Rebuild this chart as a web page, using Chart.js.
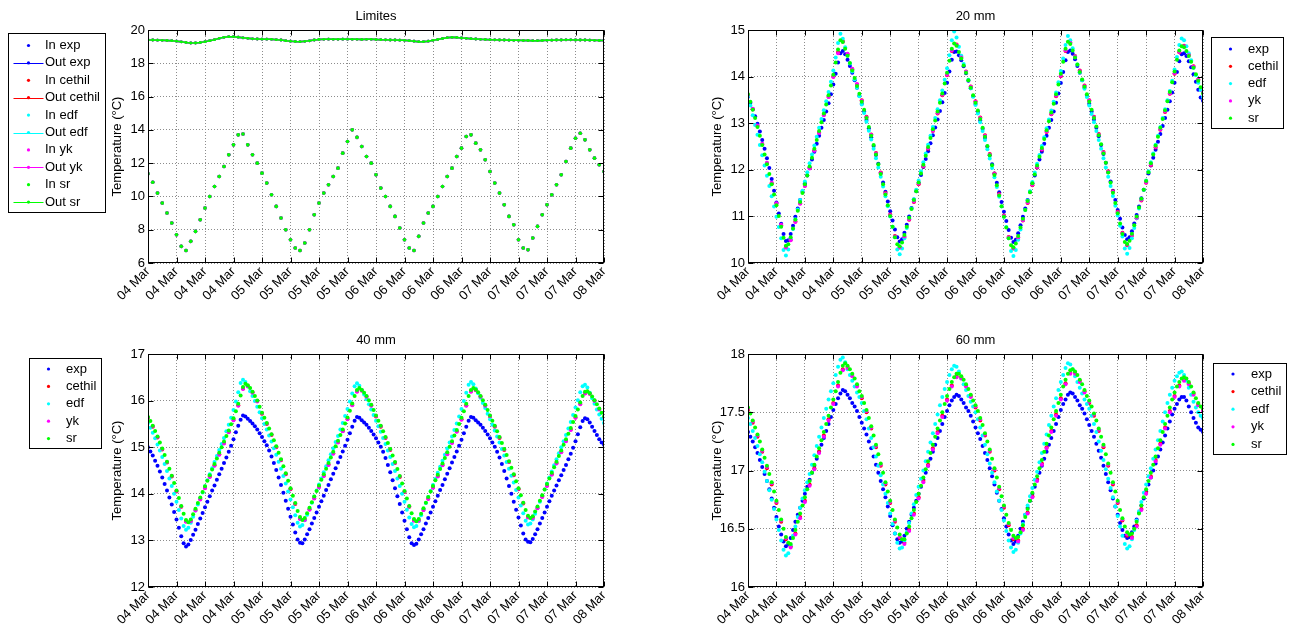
<!DOCTYPE html>
<html>
<head>
<meta charset="utf-8">
<script src="https://cdn.jsdelivr.net/npm/chart.js@4.4.1/dist/chart.umd.min.js"></script>
<style>
  html, body { margin: 0; padding: 0; background: #fff; }
  body { width: 1295px; height: 635px; position: relative; overflow: hidden; }
  .panel { position: absolute; }
</style>
</head>
<body>
<div class="panel" style="left:0;top:0;width:647px;height:317px"><canvas id="limites"></canvas></div>
<div class="panel" style="left:647px;top:0;width:648px;height:317px"><canvas id="mm20"></canvas></div>
<div class="panel" style="left:0;top:317px;width:647px;height:318px"><canvas id="mm40"></canvas></div>
<div class="panel" style="left:647px;top:317px;width:648px;height:318px"><canvas id="mm60"></canvas></div>
<script>
// x tick labels, one every 6 h from 04 Mar 00:00 to 08 Mar 00:00
const dayTicks = ['04 Mar', '04 Mar', '04 Mar', '04 Mar', '05 Mar', '05 Mar', '05 Mar', '05 Mar',
  '06 Mar', '06 Mar', '06 Mar', '06 Mar', '07 Mar', '07 Mar', '07 Mar', '07 Mar', '08 Mar'];

// sample times (hours since 04 Mar 00:00)
const hours = [0, 1, 2, 3, 4, 5, 6, 7, 8, 9, 10, 11, 12, 13, 14, 15, 16, 17, 18, 19, 20, 21, 22, 23,
  24, 25, 26, 27, 28, 29, 30, 31, 32, 33, 34, 35, 36, 37, 38, 39, 40, 41, 42, 43, 44, 45, 46, 47,
  48, 49, 50, 51, 52, 53, 54, 55, 56, 57, 58, 59, 60, 61, 62, 63, 64, 65, 66, 67, 68, 69, 70, 71,
  72, 73, 74, 75, 76, 77, 78, 79, 80, 81, 82, 83, 84, 85, 86, 87, 88, 89, 90, 91, 92, 93, 94, 95, 96];
const halfHours = [0, 0.5, 1, 1.5, 2, 2.5, 3, 3.5, 4, 4.5, 5, 5.5, 6, 6.5, 7, 7.5, 8, 8.5, 9, 9.5, 10, 10.5, 11, 11.5,
  12, 12.5, 13, 13.5, 14, 14.5, 15, 15.5, 16, 16.5, 17, 17.5, 18, 18.5, 19, 19.5, 20, 20.5, 21, 21.5, 22, 22.5, 23, 23.5,
  24, 24.5, 25, 25.5, 26, 26.5, 27, 27.5, 28, 28.5, 29, 29.5, 30, 30.5, 31, 31.5, 32, 32.5, 33, 33.5, 34, 34.5, 35, 35.5,
  36, 36.5, 37, 37.5, 38, 38.5, 39, 39.5, 40, 40.5, 41, 41.5, 42, 42.5, 43, 43.5, 44, 44.5, 45, 45.5, 46, 46.5, 47, 47.5,
  48, 48.5, 49, 49.5, 50, 50.5, 51, 51.5, 52, 52.5, 53, 53.5, 54, 54.5, 55, 55.5, 56, 56.5, 57, 57.5, 58, 58.5, 59, 59.5,
  60, 60.5, 61, 61.5, 62, 62.5, 63, 63.5, 64, 64.5, 65, 65.5, 66, 66.5, 67, 67.5, 68, 68.5, 69, 69.5, 70, 70.5, 71, 71.5,
  72, 72.5, 73, 73.5, 74, 74.5, 75, 75.5, 76, 76.5, 77, 77.5, 78, 78.5, 79, 79.5, 80, 80.5, 81, 81.5, 82, 82.5, 83, 83.5,
  84, 84.5, 85, 85.5, 86, 86.5, 87, 87.5, 88, 88.5, 89, 89.5, 90, 90.5, 91, 91.5, 92, 92.5, 93, 93.5, 94, 94.5, 95, 95.5, 96];

// Limites: boundary conditions (same for every source), hourly
const limitIn = [11.36, 10.85, 10.20, 9.60, 9.00, 8.40, 7.70, 7.00, 6.75, 7.30, 7.90, 8.60, 9.30, 10.00, 10.60, 11.20, 11.80, 12.50, 13.10, 13.70, 13.75, 13.10, 12.50, 12.00,
  11.40, 10.80, 10.10, 9.40, 8.70, 8.00, 7.40, 6.90, 6.75, 7.20, 8.00, 8.90, 9.60, 10.20, 10.70, 11.20, 11.70, 12.60, 13.30, 14.00, 13.55, 13.00, 12.40, 12.00,
  11.30, 10.50, 10.00, 9.40, 8.80, 8.10, 7.40, 6.90, 6.75, 7.60, 8.40, 9.00, 9.40, 10.00, 10.60, 11.20, 11.70, 12.40, 12.90, 13.60, 13.70, 13.20, 12.80, 12.20,
  11.50, 10.80, 10.20, 9.50, 8.80, 8.30, 7.40, 6.90, 6.80, 7.50, 8.20, 8.90, 9.50, 10.10, 10.70, 11.30, 12.10, 12.90, 13.50, 13.80, 13.40, 12.80, 12.30, 11.90, 11.50];
const limitOut = [19.40, 19.40, 19.39, 19.38, 19.37, 19.36, 19.33, 19.29, 19.25, 19.22, 19.22, 19.25, 19.30, 19.36, 19.42, 19.50, 19.56, 19.60, 19.60, 19.57, 19.53, 19.50, 19.47, 19.46,
  19.45, 19.45, 19.44, 19.42, 19.40, 19.36, 19.33, 19.31, 19.30, 19.32, 19.35, 19.40, 19.43, 19.44, 19.45, 19.44, 19.44, 19.45, 19.45, 19.44, 19.44, 19.43, 19.44, 19.44,
  19.43, 19.42, 19.41, 19.40, 19.40, 19.39, 19.38, 19.36, 19.33, 19.30, 19.30, 19.33, 19.38, 19.43, 19.49, 19.54, 19.56, 19.55, 19.52, 19.50, 19.48, 19.46, 19.44, 19.43,
  19.42, 19.41, 19.40, 19.40, 19.39, 19.38, 19.38, 19.37, 19.37, 19.36, 19.36, 19.37, 19.38, 19.39, 19.40, 19.40, 19.41, 19.41, 19.40, 19.40, 19.40, 19.39, 19.38, 19.37, 19.37];

// 20 mm
const exp20 = [13.57, 13.44, 13.30, 13.15, 12.99, 12.82, 12.64, 12.45, 12.25, 12.04, 11.80, 11.55, 11.30, 11.06, 10.84, 10.62, 10.47, 10.49, 10.62, 10.80, 10.99, 11.17, 11.35, 11.53, 11.71, 11.88, 12.05, 12.22, 12.39, 12.56, 12.73, 12.90, 13.07, 13.25, 13.43, 13.62, 13.83, 14.06, 14.30, 14.50, 14.55, 14.48, 14.36, 14.23, 14.08, 13.92, 13.76, 13.59,
  13.42, 13.25, 13.07, 12.89, 12.70, 12.51, 12.32, 12.13, 11.93, 11.73, 11.53, 11.32, 11.11, 10.91, 10.72, 10.55, 10.46, 10.51, 10.65, 10.82, 11.00, 11.18, 11.36, 11.54, 11.72, 11.89, 12.06, 12.23, 12.40, 12.57, 12.74, 12.91, 13.08, 13.26, 13.45, 13.65, 13.87, 14.11, 14.36, 14.53, 14.54, 14.46, 14.35, 14.22, 14.07, 13.91, 13.75, 13.58,
  13.41, 13.24, 13.06, 12.88, 12.69, 12.50, 12.31, 12.12, 11.92, 11.72, 11.52, 11.31, 11.10, 10.90, 10.71, 10.54, 10.45, 10.50, 10.64, 10.81, 10.99, 11.17, 11.35, 11.53, 11.71, 11.88, 12.05, 12.22, 12.39, 12.56, 12.73, 12.90, 13.07, 13.25, 13.44, 13.64, 13.86, 14.10, 14.35, 14.53, 14.56, 14.49, 14.37, 14.23, 14.08, 13.92, 13.76, 13.59,
  13.42, 13.25, 13.08, 12.90, 12.72, 12.53, 12.34, 12.15, 11.95, 11.75, 11.55, 11.35, 11.14, 10.95, 10.76, 10.60, 10.51, 10.55, 10.68, 10.85, 11.03, 11.21, 11.39, 11.57, 11.75, 11.92, 12.09, 12.26, 12.43, 12.60, 12.77, 12.94, 13.11, 13.29, 13.47, 13.66, 13.87, 14.10, 14.33, 14.48, 14.50, 14.44, 14.33, 14.20, 14.05, 13.89, 13.72, 13.55,
  13.48];
const cethil20 = [13.60, 13.30, 12.94, 12.55, 12.14, 11.71, 11.27, 10.81, 10.34, 10.50, 10.89, 11.28, 11.66, 12.04, 12.42, 12.80, 13.18, 13.57, 14.00, 14.52, 14.76, 14.48, 14.16, 13.83,
  13.49, 13.14, 12.76, 12.36, 11.94, 11.50, 11.04, 10.58, 10.33, 10.56, 10.93, 11.31, 11.69, 12.07, 12.45, 12.83, 13.21, 13.60, 14.03, 14.55, 14.69, 14.42, 14.11, 13.79,
  13.47, 13.12, 12.74, 12.34, 11.92, 11.48, 11.02, 10.56, 10.31, 10.54, 10.91, 11.29, 11.67, 12.05, 12.43, 12.81, 13.19, 13.58, 14.01, 14.55, 14.73, 14.44, 14.13, 13.81,
  13.49, 13.14, 12.77, 12.38, 11.97, 11.54, 11.10, 10.65, 10.38, 10.59, 10.96, 11.34, 11.72, 12.10, 12.48, 12.86, 13.24, 13.63, 14.06, 14.52, 14.66, 14.47, 14.22, 13.94, 13.67];
const edf20 = [13.58, 13.38, 13.17, 12.96, 12.75, 12.53, 12.31, 12.09, 11.87, 11.65, 11.43, 11.21, 10.99, 10.77, 10.53, 10.28, 10.16, 10.29, 10.51, 10.73, 10.94, 11.15, 11.35, 11.55, 11.75, 11.95, 12.14, 12.33, 12.52, 12.71, 12.90, 13.09, 13.28, 13.47, 13.67, 13.89, 14.13, 14.41, 14.72, 14.92, 14.81, 14.63, 14.45, 14.28, 14.11, 13.94, 13.76, 13.58,
  13.40, 13.22, 13.03, 12.84, 12.65, 12.45, 12.25, 12.05, 11.85, 11.64, 11.43, 11.22, 11.00, 10.78, 10.55, 10.29, 10.19, 10.31, 10.53, 10.75, 10.96, 11.17, 11.37, 11.57, 11.77, 11.97, 12.16, 12.35, 12.54, 12.73, 12.92, 13.11, 13.30, 13.49, 13.70, 13.93, 14.18, 14.46, 14.78, 14.97, 14.84, 14.64, 14.45, 14.27, 14.10, 13.93, 13.75, 13.57,
  13.39, 13.21, 13.02, 12.83, 12.64, 12.44, 12.24, 12.04, 11.84, 11.63, 11.42, 11.21, 10.99, 10.77, 10.53, 10.26, 10.15, 10.28, 10.50, 10.72, 10.93, 11.14, 11.34, 11.54, 11.74, 11.94, 12.13, 12.32, 12.51, 12.70, 12.89, 13.08, 13.27, 13.46, 13.66, 13.88, 14.12, 14.39, 14.68, 14.87, 14.78, 14.61, 14.43, 14.26, 14.09, 13.92, 13.74, 13.56,
  13.38, 13.20, 13.02, 12.83, 12.64, 12.45, 12.25, 12.05, 11.85, 11.65, 11.44, 11.23, 11.02, 10.80, 10.57, 10.31, 10.20, 10.32, 10.53, 10.75, 10.96, 11.17, 11.37, 11.57, 11.77, 11.97, 12.16, 12.35, 12.54, 12.73, 12.92, 13.11, 13.30, 13.49, 13.69, 13.91, 14.15, 14.42, 14.68, 14.82, 14.78, 14.65, 14.50, 14.35, 14.19, 14.03, 13.87, 13.71,
  13.56];
const yk20 = [13.61, 13.31, 12.95, 12.56, 12.15, 11.72, 11.28, 10.82, 10.33, 10.49, 10.88, 11.27, 11.65, 12.03, 12.41, 12.79, 13.17, 13.56, 13.99, 14.50, 14.75, 14.49, 14.17, 13.84,
  13.48, 13.13, 12.75, 12.35, 11.93, 11.49, 11.03, 10.57, 10.34, 10.57, 10.94, 11.32, 11.70, 12.08, 12.46, 12.84, 13.22, 13.61, 14.04, 14.56, 14.68, 14.41, 14.10, 13.78,
  13.46, 13.11, 12.73, 12.33, 11.91, 11.47, 11.01, 10.55, 10.32, 10.55, 10.92, 11.30, 11.68, 12.06, 12.44, 12.82, 13.20, 13.59, 14.02, 14.56, 14.72, 14.43, 14.12, 13.80,
  13.48, 13.13, 12.76, 12.37, 11.96, 11.53, 11.09, 10.64, 10.39, 10.60, 10.97, 11.35, 11.73, 12.11, 12.49, 12.87, 13.25, 13.64, 14.07, 14.53, 14.65, 14.46, 14.21, 13.93, 13.66];
const sr20 = [13.62, 13.46, 13.29, 13.11, 12.92, 12.73, 12.53, 12.33, 12.12, 11.91, 11.69, 11.47, 11.24, 11.01, 10.78, 10.54, 10.37, 10.40, 10.55, 10.74, 10.93, 11.12, 11.31, 11.50, 11.69, 11.88, 12.07, 12.26, 12.45, 12.64, 12.83, 13.02, 13.21, 13.40, 13.60, 13.81, 14.04, 14.30, 14.58, 14.78, 14.74, 14.60, 14.45, 14.29, 14.13, 13.97, 13.80, 13.63,
  13.46, 13.29, 13.11, 12.92, 12.73, 12.53, 12.33, 12.12, 11.91, 11.69, 11.47, 11.24, 11.01, 10.78, 10.55, 10.40, 10.36, 10.44, 10.60, 10.78, 10.97, 11.16, 11.35, 11.54, 11.73, 11.92, 12.11, 12.30, 12.49, 12.68, 12.87, 13.06, 13.25, 13.44, 13.64, 13.85, 14.08, 14.34, 14.60, 14.71, 14.66, 14.53, 14.39, 14.24, 14.08, 13.92, 13.76, 13.60,
  13.44, 13.27, 13.09, 12.90, 12.71, 12.51, 12.31, 12.10, 11.89, 11.67, 11.45, 11.22, 10.99, 10.76, 10.53, 10.38, 10.34, 10.42, 10.58, 10.76, 10.95, 11.14, 11.33, 11.52, 11.71, 11.90, 12.09, 12.28, 12.47, 12.66, 12.85, 13.04, 13.23, 13.42, 13.62, 13.83, 14.06, 14.32, 14.60, 14.75, 14.70, 14.56, 14.41, 14.26, 14.10, 13.94, 13.78, 13.62,
  13.46, 13.29, 13.11, 12.93, 12.74, 12.55, 12.35, 12.15, 11.94, 11.73, 11.51, 11.29, 11.07, 10.85, 10.62, 10.45, 10.41, 10.48, 10.63, 10.81, 11.00, 11.19, 11.38, 11.57, 11.76, 11.95, 12.14, 12.33, 12.52, 12.71, 12.90, 13.09, 13.28, 13.47, 13.67, 13.88, 14.11, 14.36, 14.56, 14.65, 14.63, 14.55, 14.44, 14.32, 14.19, 14.05, 13.91, 13.77,
  13.64];

// 40 mm
const exp40 = [15.00, 14.91, 14.82, 14.71, 14.60, 14.48, 14.35, 14.21, 14.07, 13.92, 13.77, 13.61, 13.45, 13.27, 13.09, 12.94, 12.87, 12.91, 13.01, 13.12, 13.23, 13.35, 13.47, 13.59, 13.71, 13.83, 13.95, 14.07, 14.18, 14.30, 14.42, 14.54, 14.66, 14.78, 14.90, 15.03, 15.17, 15.32, 15.46, 15.59, 15.68, 15.66, 15.61, 15.56, 15.51, 15.45, 15.38, 15.30,
  15.22, 15.13, 15.04, 14.93, 14.80, 14.66, 14.51, 14.35, 14.19, 14.02, 13.85, 13.68, 13.51, 13.34, 13.17, 13.02, 12.95, 12.94, 13.02, 13.13, 13.24, 13.36, 13.48, 13.60, 13.72, 13.84, 13.96, 14.08, 14.19, 14.31, 14.43, 14.55, 14.67, 14.79, 14.91, 15.03, 15.16, 15.30, 15.44, 15.57, 15.65, 15.63, 15.58, 15.53, 15.48, 15.42, 15.35, 15.27,
  15.19, 15.10, 15.01, 14.90, 14.77, 14.62, 14.46, 14.29, 14.12, 13.95, 13.78, 13.60, 13.42, 13.24, 13.07, 12.94, 12.90, 12.93, 13.02, 13.13, 13.24, 13.36, 13.48, 13.60, 13.72, 13.84, 13.96, 14.08, 14.19, 14.31, 14.43, 14.55, 14.67, 14.79, 14.91, 15.03, 15.16, 15.30, 15.44, 15.57, 15.65, 15.63, 15.58, 15.53, 15.48, 15.42, 15.35, 15.27,
  15.19, 15.10, 15.01, 14.90, 14.78, 14.64, 14.49, 14.33, 14.17, 14.00, 13.83, 13.66, 13.49, 13.32, 13.15, 13.02, 12.97, 12.96, 13.03, 13.13, 13.24, 13.36, 13.48, 13.60, 13.72, 13.84, 13.96, 14.07, 14.18, 14.29, 14.40, 14.51, 14.62, 14.74, 14.86, 14.99, 15.13, 15.28, 15.43, 15.56, 15.62, 15.60, 15.53, 15.44, 15.35, 15.26, 15.17, 15.10,
  15.05];
const cethil40 = [15.63, 15.44, 15.21, 14.95, 14.67, 14.37, 14.05, 13.72, 13.41, 13.42, 13.65, 13.89, 14.13, 14.37, 14.61, 14.85, 15.09, 15.33, 15.59, 15.90, 16.26, 16.32, 16.18, 15.99,
  15.72, 15.50, 15.26, 15.00, 14.72, 14.42, 14.10, 13.78, 13.47, 13.45, 13.67, 13.91, 14.15, 14.39, 14.63, 14.87, 15.11, 15.35, 15.61, 15.91, 16.20, 16.22, 16.09, 15.90,
  15.66, 15.44, 15.20, 14.94, 14.66, 14.36, 14.04, 13.72, 13.43, 13.43, 13.66, 13.90, 14.14, 14.38, 14.62, 14.86, 15.10, 15.34, 15.60, 15.90, 16.20, 16.23, 16.09, 15.90,
  15.66, 15.44, 15.20, 14.94, 14.68, 14.40, 14.10, 13.79, 13.50, 13.49, 13.70, 13.94, 14.18, 14.42, 14.66, 14.90, 15.14, 15.38, 15.64, 15.93, 16.16, 16.15, 16.00, 15.82, 15.64];
const edf40 = [15.52, 15.42, 15.31, 15.19, 15.06, 14.93, 14.79, 14.64, 14.49, 14.33, 14.17, 14.00, 13.83, 13.65, 13.47, 13.31, 13.23, 13.27, 13.38, 13.51, 13.64, 13.77, 13.90, 14.03, 14.16, 14.29, 14.42, 14.55, 14.68, 14.81, 14.94, 15.07, 15.20, 15.34, 15.48, 15.63, 15.80, 15.98, 16.18, 16.38, 16.45, 16.40, 16.30, 16.20, 16.10, 15.99, 15.87, 15.75,
  15.62, 15.50, 15.38, 15.25, 15.12, 14.98, 14.84, 14.69, 14.54, 14.38, 14.22, 14.05, 13.88, 13.71, 13.54, 13.38, 13.30, 13.33, 13.43, 13.55, 13.68, 13.81, 13.94, 14.07, 14.20, 14.33, 14.46, 14.59, 14.72, 14.85, 14.98, 15.11, 15.24, 15.38, 15.52, 15.67, 15.82, 15.98, 16.15, 16.31, 16.37, 16.32, 16.23, 16.13, 16.03, 15.92, 15.81, 15.69,
  15.57, 15.45, 15.33, 15.20, 15.07, 14.93, 14.79, 14.64, 14.49, 14.33, 14.17, 14.00, 13.83, 13.66, 13.49, 13.35, 13.28, 13.31, 13.41, 13.54, 13.67, 13.80, 13.93, 14.06, 14.19, 14.32, 14.45, 14.58, 14.71, 14.84, 14.97, 15.10, 15.23, 15.37, 15.51, 15.66, 15.82, 15.99, 16.17, 16.34, 16.40, 16.35, 16.26, 16.16, 16.06, 15.95, 15.84, 15.72,
  15.60, 15.48, 15.36, 15.23, 15.10, 14.96, 14.82, 14.68, 14.54, 14.39, 14.24, 14.08, 13.92, 13.75, 13.58, 13.42, 13.34, 13.36, 13.45, 13.57, 13.70, 13.83, 13.96, 14.09, 14.22, 14.35, 14.48, 14.61, 14.74, 14.87, 15.00, 15.13, 15.26, 15.40, 15.54, 15.69, 15.85, 16.01, 16.18, 16.31, 16.34, 16.28, 16.17, 16.05, 15.93, 15.81, 15.70, 15.61,
  15.52];
const yk40 = [15.64, 15.45, 15.22, 14.96, 14.68, 14.38, 14.06, 13.73, 13.40, 13.41, 13.64, 13.88, 14.12, 14.36, 14.60, 14.84, 15.08, 15.32, 15.58, 15.89, 16.25, 16.31, 16.17, 15.98,
  15.73, 15.51, 15.27, 15.01, 14.73, 14.43, 14.11, 13.79, 13.46, 13.44, 13.66, 13.90, 14.14, 14.38, 14.62, 14.86, 15.10, 15.34, 15.60, 15.90, 16.19, 16.21, 16.08, 15.89,
  15.67, 15.45, 15.21, 14.95, 14.67, 14.37, 14.05, 13.73, 13.42, 13.42, 13.65, 13.89, 14.13, 14.37, 14.61, 14.85, 15.09, 15.33, 15.59, 15.89, 16.19, 16.22, 16.08, 15.89,
  15.67, 15.45, 15.21, 14.95, 14.69, 14.41, 14.11, 13.80, 13.49, 13.48, 13.69, 13.93, 14.17, 14.41, 14.65, 14.89, 15.13, 15.37, 15.63, 15.92, 16.15, 16.14, 15.99, 15.81, 15.65];
const sr40 = [15.65, 15.56, 15.46, 15.35, 15.23, 15.10, 14.97, 14.83, 14.69, 14.54, 14.39, 14.23, 14.07, 13.91, 13.74, 13.57, 13.44, 13.39, 13.45, 13.56, 13.68, 13.80, 13.92, 14.04, 14.16, 14.28, 14.40, 14.52, 14.64, 14.76, 14.88, 15.00, 15.12, 15.24, 15.36, 15.49, 15.62, 15.77, 15.93, 16.11, 16.29, 16.36, 16.33, 16.27, 16.19, 16.10, 16.00, 15.87,
  15.74, 15.63, 15.52, 15.40, 15.28, 15.15, 15.02, 14.88, 14.74, 14.59, 14.44, 14.28, 14.12, 13.96, 13.80, 13.63, 13.50, 13.44, 13.48, 13.58, 13.70, 13.82, 13.94, 14.06, 14.18, 14.30, 14.42, 14.54, 14.66, 14.78, 14.90, 15.02, 15.14, 15.26, 15.38, 15.51, 15.64, 15.78, 15.94, 16.10, 16.23, 16.27, 16.23, 16.17, 16.10, 16.01, 15.91, 15.80,
  15.68, 15.57, 15.46, 15.34, 15.22, 15.09, 14.96, 14.82, 14.68, 14.53, 14.38, 14.22, 14.06, 13.90, 13.74, 13.58, 13.46, 13.41, 13.46, 13.57, 13.69, 13.81, 13.93, 14.05, 14.17, 14.29, 14.41, 14.53, 14.65, 14.77, 14.89, 15.01, 15.13, 15.25, 15.37, 15.50, 15.63, 15.77, 15.93, 16.10, 16.23, 16.27, 16.24, 16.18, 16.10, 16.01, 15.91, 15.80,
  15.68, 15.57, 15.46, 15.34, 15.22, 15.09, 14.96, 14.83, 14.70, 14.56, 14.42, 14.27, 14.12, 13.97, 13.81, 13.65, 13.53, 13.48, 13.52, 13.62, 13.73, 13.85, 13.97, 14.09, 14.21, 14.33, 14.45, 14.57, 14.69, 14.81, 14.93, 15.05, 15.17, 15.29, 15.41, 15.54, 15.67, 15.81, 15.96, 16.10, 16.19, 16.20, 16.16, 16.09, 16.01, 15.92, 15.83, 15.74,
  15.66];

// 60 mm
const exp60 = [17.33, 17.29, 17.25, 17.20, 17.15, 17.09, 17.03, 16.97, 16.91, 16.84, 16.76, 16.68, 16.60, 16.52, 16.45, 16.39, 16.35, 16.37, 16.42, 16.49, 16.56, 16.62, 16.68, 16.74, 16.80, 16.86, 16.92, 16.98, 17.04, 17.10, 17.16, 17.22, 17.28, 17.34, 17.40, 17.46, 17.52, 17.57, 17.62, 17.66, 17.69, 17.68, 17.65, 17.62, 17.58, 17.55, 17.51, 17.46,
  17.41, 17.36, 17.31, 17.25, 17.19, 17.12, 17.05, 16.98, 16.91, 16.84, 16.77, 16.69, 16.61, 16.53, 16.46, 16.41, 16.38, 16.39, 16.44, 16.50, 16.56, 16.62, 16.68, 16.74, 16.80, 16.86, 16.92, 16.98, 17.04, 17.10, 17.16, 17.22, 17.28, 17.34, 17.40, 17.46, 17.51, 17.56, 17.60, 17.63, 17.65, 17.64, 17.61, 17.58, 17.54, 17.51, 17.47, 17.42,
  17.37, 17.32, 17.27, 17.21, 17.15, 17.09, 17.02, 16.95, 16.88, 16.81, 16.74, 16.67, 16.59, 16.52, 16.45, 16.40, 16.37, 16.39, 16.44, 16.50, 16.56, 16.62, 16.68, 16.74, 16.80, 16.86, 16.92, 16.98, 17.04, 17.10, 17.16, 17.22, 17.28, 17.34, 17.40, 17.46, 17.52, 17.57, 17.61, 17.65, 17.67, 17.66, 17.63, 17.60, 17.56, 17.53, 17.49, 17.44,
  17.39, 17.34, 17.29, 17.23, 17.17, 17.11, 17.04, 16.97, 16.90, 16.83, 16.76, 16.69, 16.62, 16.55, 16.49, 16.44, 16.42, 16.43, 16.47, 16.52, 16.58, 16.64, 16.70, 16.76, 16.82, 16.88, 16.94, 17.00, 17.06, 17.12, 17.18, 17.24, 17.30, 17.36, 17.42, 17.48, 17.53, 17.57, 17.61, 17.63, 17.63, 17.60, 17.55, 17.50, 17.45, 17.41, 17.37, 17.35,
  17.33];
const cethil60 = [17.52, 17.41, 17.29, 17.16, 17.02, 16.88, 16.72, 16.56, 16.41, 16.35, 16.46, 16.60, 16.74, 16.88, 17.02, 17.16, 17.30, 17.44, 17.58, 17.73, 17.87, 17.89, 17.82, 17.73,
  17.62, 17.50, 17.36, 17.20, 17.04, 16.88, 16.72, 16.56, 16.42, 16.38, 16.49, 16.63, 16.77, 16.91, 17.05, 17.19, 17.33, 17.47, 17.61, 17.73, 17.81, 17.80, 17.73, 17.64,
  17.54, 17.43, 17.30, 17.16, 17.00, 16.84, 16.68, 16.53, 16.41, 16.40, 16.50, 16.64, 16.78, 16.92, 17.06, 17.20, 17.34, 17.48, 17.62, 17.75, 17.84, 17.84, 17.77, 17.68,
  17.58, 17.47, 17.34, 17.20, 17.04, 16.88, 16.72, 16.57, 16.44, 16.43, 16.53, 16.67, 16.81, 16.95, 17.09, 17.23, 17.37, 17.51, 17.64, 17.73, 17.78, 17.75, 17.66, 17.57, 17.52];
const edf60 = [17.45, 17.40, 17.34, 17.28, 17.21, 17.14, 17.07, 16.99, 16.91, 16.83, 16.75, 16.67, 16.58, 16.49, 16.40, 16.32, 16.27, 16.29, 16.36, 16.44, 16.52, 16.60, 16.68, 16.76, 16.83, 16.90, 16.97, 17.05, 17.13, 17.21, 17.29, 17.37, 17.45, 17.53, 17.61, 17.68, 17.75, 17.82, 17.89, 17.95, 17.97, 17.93, 17.87, 17.82, 17.77, 17.72, 17.67, 17.63,
  17.58, 17.51, 17.44, 17.36, 17.28, 17.20, 17.12, 17.04, 16.96, 16.88, 16.80, 16.72, 16.63, 16.54, 16.46, 16.38, 16.33, 16.34, 16.40, 16.47, 16.55, 16.63, 16.71, 16.79, 16.86, 16.93, 17.00, 17.08, 17.16, 17.24, 17.32, 17.40, 17.48, 17.56, 17.63, 17.70, 17.76, 17.82, 17.87, 17.90, 17.89, 17.85, 17.79, 17.74, 17.69, 17.64, 17.59, 17.55,
  17.50, 17.44, 17.37, 17.30, 17.22, 17.14, 17.06, 16.98, 16.90, 16.82, 16.74, 16.66, 16.57, 16.48, 16.40, 16.34, 16.30, 16.32, 16.38, 16.46, 16.54, 16.62, 16.70, 16.78, 16.85, 16.92, 16.99, 17.07, 17.15, 17.23, 17.31, 17.39, 17.47, 17.55, 17.62, 17.69, 17.76, 17.82, 17.88, 17.92, 17.91, 17.87, 17.81, 17.76, 17.71, 17.66, 17.61, 17.57,
  17.53, 17.47, 17.40, 17.33, 17.25, 17.17, 17.09, 17.01, 16.93, 16.85, 16.77, 16.69, 16.61, 16.52, 16.44, 16.37, 16.33, 16.35, 16.41, 16.49, 16.57, 16.65, 16.73, 16.81, 16.88, 16.95, 17.02, 17.10, 17.18, 17.26, 17.34, 17.42, 17.50, 17.58, 17.65, 17.71, 17.77, 17.81, 17.84, 17.85, 17.82, 17.77, 17.71, 17.65, 17.59, 17.54, 17.50, 17.47,
  17.45];
const yk60 = [17.53, 17.42, 17.30, 17.17, 17.03, 16.89, 16.73, 16.57, 16.42, 16.34, 16.45, 16.59, 16.73, 16.87, 17.01, 17.15, 17.29, 17.43, 17.57, 17.72, 17.86, 17.88, 17.81, 17.72,
  17.63, 17.51, 17.37, 17.21, 17.05, 16.89, 16.73, 16.57, 16.43, 16.37, 16.48, 16.62, 16.76, 16.90, 17.04, 17.18, 17.32, 17.46, 17.60, 17.72, 17.80, 17.79, 17.72, 17.63,
  17.55, 17.44, 17.31, 17.17, 17.01, 16.85, 16.69, 16.54, 16.42, 16.39, 16.49, 16.63, 16.77, 16.91, 17.05, 17.19, 17.33, 17.47, 17.61, 17.74, 17.83, 17.83, 17.76, 17.67,
  17.59, 17.48, 17.35, 17.21, 17.05, 16.89, 16.73, 16.58, 16.45, 16.42, 16.52, 16.66, 16.80, 16.94, 17.08, 17.22, 17.36, 17.50, 17.63, 17.72, 17.77, 17.74, 17.65, 17.56, 17.51];
const sr60 = [17.54, 17.49, 17.43, 17.37, 17.31, 17.25, 17.18, 17.11, 17.04, 16.97, 16.90, 16.82, 16.74, 16.66, 16.58, 16.50, 16.43, 16.38, 16.37, 16.42, 16.49, 16.56, 16.63, 16.70, 16.77, 16.84, 16.91, 16.98, 17.05, 17.12, 17.19, 17.26, 17.33, 17.40, 17.47, 17.54, 17.61, 17.68, 17.76, 17.84, 17.90, 17.92, 17.90, 17.87, 17.83, 17.79, 17.74, 17.68,
  17.64, 17.58, 17.52, 17.45, 17.38, 17.30, 17.22, 17.14, 17.06, 16.98, 16.90, 16.82, 16.74, 16.66, 16.58, 16.51, 16.45, 16.41, 16.41, 16.46, 16.52, 16.59, 16.66, 16.73, 16.80, 16.87, 16.94, 17.01, 17.08, 17.15, 17.22, 17.29, 17.36, 17.43, 17.50, 17.57, 17.64, 17.70, 17.76, 17.80, 17.83, 17.83, 17.81, 17.78, 17.74, 17.70, 17.65, 17.60,
  17.56, 17.51, 17.45, 17.39, 17.32, 17.25, 17.18, 17.10, 17.02, 16.94, 16.86, 16.78, 16.70, 16.62, 16.55, 16.49, 16.44, 16.42, 16.43, 16.47, 16.53, 16.60, 16.67, 16.74, 16.81, 16.88, 16.95, 17.02, 17.09, 17.16, 17.23, 17.30, 17.37, 17.44, 17.51, 17.58, 17.65, 17.72, 17.78, 17.83, 17.86, 17.87, 17.85, 17.82, 17.78, 17.74, 17.69, 17.64,
  17.60, 17.55, 17.49, 17.43, 17.36, 17.29, 17.22, 17.14, 17.06, 16.98, 16.90, 16.82, 16.74, 16.66, 16.59, 16.52, 16.47, 16.45, 16.46, 16.50, 16.56, 16.63, 16.70, 16.77, 16.84, 16.91, 16.98, 17.05, 17.12, 17.19, 17.26, 17.33, 17.40, 17.47, 17.54, 17.61, 17.67, 17.72, 17.76, 17.79, 17.80, 17.79, 17.76, 17.72, 17.67, 17.62, 17.58, 17.55,
  17.53];

const sources = ['exp', 'cethil', 'edf', 'yk', 'sr'];
const COLORS = { exp: '#0000ff', cethil: '#ff0000', edf: '#00ffff', yk: '#ff00ff', sr: '#00ff00' };
const FONT = '"Liberation Sans", Arial, Helvetica, sans-serif';

Chart.defaults.font.family = FONT;
Chart.defaults.font.size = 13;
Chart.defaults.color = '#000';

function pts(xs, ys) {
  return ys.map((v, i) => ({ x: xs[i], y: v }));
}

// black box round the plot area with small inward ticks, MATLAB style
const axesBox = {
  id: 'axesBox',
  afterDraw(chart) {
    const { ctx, chartArea: a, scales: { x, y } } = chart;
    const L = Math.round(a.left) + 0.5, R = Math.round(a.right) - 0.5;
    const T = Math.round(a.top) + 0.5, B = Math.round(a.bottom) - 0.5;
    ctx.save();
    ctx.strokeStyle = '#000';
    ctx.lineWidth = 1;
    ctx.beginPath();
    x.ticks.forEach(t => {
      const px = Math.round(x.getPixelForValue(t.value)) + 0.5;
      ctx.moveTo(px, B); ctx.lineTo(px, B - 5);
      ctx.moveTo(px, T); ctx.lineTo(px, T + 5);
    });
    y.ticks.forEach(t => {
      const py = Math.round(y.getPixelForValue(t.value)) + 0.5;
      ctx.moveTo(L, py); ctx.lineTo(L + 5, py);
      ctx.moveTo(R, py); ctx.lineTo(R - 5, py);
    });
    ctx.stroke();
    ctx.strokeRect(L, T, R - L, B - T);
    ctx.restore();
  }
};

// boxed legend at a fixed spot, items in dataset order
const matlabLegend = {
  id: 'matlabLegend',
  afterDraw(chart, args, o) {
    const ctx = chart.ctx;
    ctx.save();
    ctx.fillStyle = '#fff';
    ctx.fillRect(o.x, o.y, o.w, o.h);
    ctx.strokeStyle = '#000';
    ctx.lineWidth = 1;
    ctx.strokeRect(o.x + 0.5, o.y + 0.5, o.w, o.h);
    ctx.font = '13px ' + FONT;
    ctx.textBaseline = 'middle';
    chart.data.datasets.forEach((ds, i) => {
      const cy = o.y + o.first + i * o.step;
      ctx.fillStyle = ds.borderColor;
      ctx.strokeStyle = ds.borderColor;
      if (ds.showLine) {
        ctx.lineWidth = 1;
        ctx.beginPath();
        ctx.moveTo(o.x + o.symX - 15, Math.round(cy) + 0.5);
        ctx.lineTo(o.x + o.symX + 15, Math.round(cy) + 0.5);
        ctx.stroke();
      }
      ctx.beginPath();
      ctx.arc(o.x + o.symX, cy, 1.6, 0, Math.PI * 2);
      ctx.fill();
      ctx.fillStyle = '#000';
      ctx.fillText(ds.label, o.x + o.textX, cy);
    });
    ctx.restore();
  }
};

function makeChart(id, cfg) {
  const grid = { color: '#8c8c8c', lineWidth: 1, drawTicks: false };
  const border = { display: false, dash: [1, 2] };
  return new Chart(document.getElementById(id), {
    type: 'scatter',
    data: { datasets: cfg.datasets },
    options: {
      responsive: true,
      maintainAspectRatio: false,
      animation: false,
      events: [],
      layout: { padding: cfg.pad },
      plugins: {
        legend: { display: false },
        tooltip: { enabled: false },
        title: {
          display: true, text: cfg.title, fullSize: false, color: '#000',
          font: { size: 13, weight: 'normal' }, padding: cfg.titlePad
        },
        matlabLegend: cfg.legend
      },
      scales: {
        x: {
          type: 'linear', min: 0, max: 96,
          ticks: {
            stepSize: 6, autoSkip: false, maxRotation: 45, minRotation: 45, padding: 1,
            color: '#000', font: { size: 13 },
            callback: v => dayTicks[Math.round(v / 6)]
          },
          grid: grid, border: border,
          afterFit: s => { s.height = 40; }
        },
        y: {
          min: cfg.ymin, max: cfg.ymax,
          ticks: { stepSize: cfg.ystep, padding: 3, color: '#000', font: { size: 13 }, callback: v => String(v) },
          grid: grid, border: border,
          title: { display: true, text: 'Temperature (°C)', color: '#000', font: { size: 13 }, padding: { top: 4, bottom: 4 } },
          afterFit: s => { s.width = 42; }
        }
      }
    },
    plugins: [axesBox, matlabLegend]
  });
}

function profileSets(series) {
  // series: {exp, cethil, edf, yk, sr}; hourly arrays have 97 points, half-hourly 193
  return sources.map((name, i) => ({
    label: name,
    data: pts(series[name].length === hours.length ? hours : halfHours, series[name]),
    showLine: false,
    borderColor: COLORS[name],
    backgroundColor: COLORS[name],
    pointRadius: 2,
    pointBorderWidth: 0,
    order: sources.length - 1 - i
  }));
}

function limitSets() {
  const out = [];
  sources.forEach(name => {
    out.push({
      label: 'In ' + name, data: pts(hours, limitIn), showLine: false,
      borderColor: COLORS[name], backgroundColor: COLORS[name],
      pointRadius: 1.8, pointBorderWidth: 0
    });
    out.push({
      label: 'Out ' + name, data: pts(hours, limitOut), showLine: true,
      borderColor: COLORS[name], backgroundColor: COLORS[name], borderWidth: 1.5,
      pointRadius: 1.4, pointBorderWidth: 0
    });
  });
  out.forEach((d, i) => { d.order = out.length - 1 - i; });
  return out;
}

makeChart('limites', {
  title: 'Limites', ymin: 6, ymax: 20, ystep: 2,
  datasets: limitSets(),
  pad: { left: 106, right: 43, top: 0, bottom: 14 },
  titlePad: { top: 8.2, bottom: 6.2 },
  legend: { x: 8, y: 33, w: 97, h: 179, first: 12.5, step: 17.4, symX: 20.5, textX: 37 }
});

makeChart('mm20', {
  title: '20 mm', ymin: 10, ymax: 15, ystep: 1,
  datasets: profileSets({ exp: exp20, cethil: cethil20, edf: edf20, yk: yk20, sr: sr20 }),
  pad: { left: 59, right: 92, top: 0, bottom: 14 },
  titlePad: { top: 8.2, bottom: 6.2 },
  legend: { x: 564, y: 37, w: 72, h: 91, first: 12, step: 17.3, symX: 19.5, textX: 37 }
});

makeChart('mm40', {
  title: '40 mm', ymin: 12, ymax: 17, ystep: 1,
  datasets: profileSets({ exp: exp40, cethil: cethil40, edf: edf40, yk: yk40, sr: sr40 }),
  pad: { left: 106, right: 43, top: 0, bottom: 8 },
  titlePad: { top: 15.2, bottom: 6.2 },
  legend: { x: 29, y: 41, w: 72, h: 90, first: 11, step: 17.4, symX: 19.5, textX: 37 }
});

makeChart('mm60', {
  title: '60 mm', ymin: 16, ymax: 18, ystep: 0.5,
  datasets: profileSets({ exp: exp60, cethil: cethil60, edf: edf60, yk: yk60, sr: sr60 }),
  pad: { left: 59, right: 92, top: 0, bottom: 8 },
  titlePad: { top: 15.2, bottom: 6.2 },
  legend: { x: 566, y: 46, w: 73, h: 91, first: 11, step: 17.6, symX: 20, textX: 38 }
});
</script>
</body>
</html>
